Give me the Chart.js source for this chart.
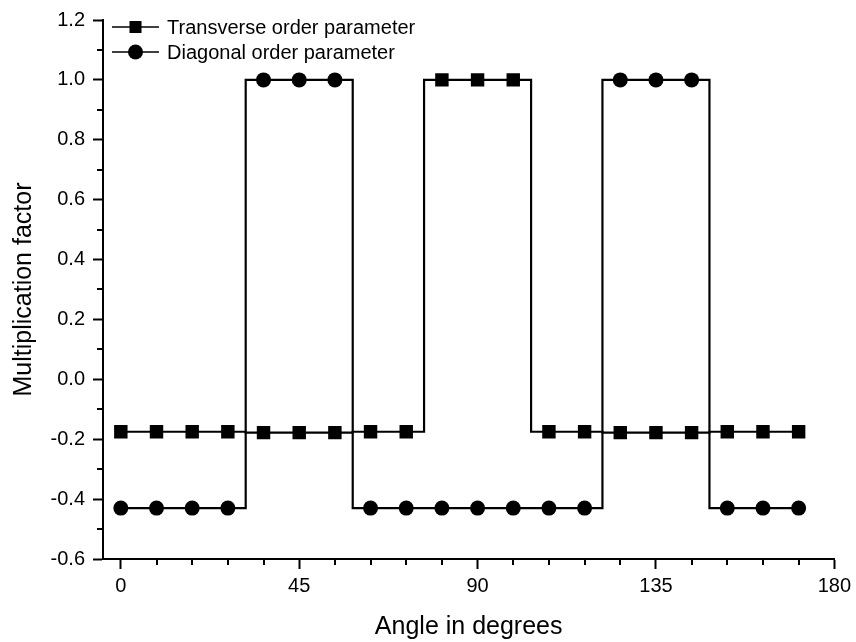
<!DOCTYPE html>
<html><head><meta charset="utf-8">
<script src="https://cdn.jsdelivr.net/npm/chart.js@4"></script>
<style>html,body{margin:0;padding:0;background:#fff}</style>
</head><body><canvas id="c" width="856" height="642"></canvas>
<script>
const angles = [0,9,18,27,36,45,54,63,72,81,90,99,108,117,126,135,144,153,162,171];
const transverse = [-0.175,-0.175,-0.175,-0.175,-0.178,-0.178,-0.178,-0.175,-0.175,1.0,1.0,1.0,-0.175,-0.175,-0.178,-0.178,-0.178,-0.175,-0.175,-0.175];
const diagonal = [-0.43,-0.43,-0.43,-0.43,1.0,1.0,1.0,-0.43,-0.43,-0.43,-0.43,-0.43,-0.43,-0.43,1.0,1.0,1.0,-0.43,-0.43,-0.43];
const xTicks = [0,45,90,135,180];
const yTicks = [-0.6,-0.4,-0.2,0.0,0.2,0.4,0.6,0.8,1.0,1.2];
const seriesNames = ['Transverse order parameter','Diagonal order parameter'];
const xTitle = 'Angle in degrees';
const yTitle = 'Multiplication factor';

const FAM = '"Liberation Sans", Arial, Helvetica, sans-serif';

const minorTicks = {
  id: 'minorTicks',
  afterDraw(chart) {
    const ctx = chart.ctx, xs = chart.scales.x, ys = chart.scales.y;
    ctx.save();
    ctx.strokeStyle = '#000'; ctx.lineWidth = 2;
    for (let i = 0; i < xTicks.length - 1; i++) {
      const a = xTicks[i], b = xTicks[i + 1];
      for (let k = 1; k < 5; k++) {
        const px = Math.round(xs.getPixelForValue(a + (b - a) * k / 5));
        ctx.beginPath(); ctx.moveTo(px, xs.top); ctx.lineTo(px, xs.top + 6); ctx.stroke();
      }
    }
    for (let i = 0; i < yTicks.length - 1; i++) {
      const a = yTicks[i], b = yTicks[i + 1];
      const py = Math.round(ys.getPixelForValue((a + b) / 2));
      ctx.beginPath(); ctx.moveTo(ys.right, py); ctx.lineTo(ys.right - 6, py); ctx.stroke();
    }
    ctx.restore();
  }
};

const legendBox = {
  id: 'legendBox',
  afterDraw(chart) {
    const ctx = chart.ctx, area = chart.chartArea;
    ctx.save();
    chart.data.datasets.forEach((ds, i) => {
      const y = area.top + 7 + i * 25;
      const x0 = area.left + 9, x1 = area.left + 56, xm = (x0 + x1) / 2;
      ctx.strokeStyle = '#000'; ctx.lineWidth = 1.3;
      ctx.beginPath(); ctx.moveTo(x0, y); ctx.lineTo(x1, y); ctx.stroke();
      ctx.fillStyle = '#000';
      Chart.helpers.drawPoint(ctx, {pointStyle: ds.pointStyle, radius: ds.pointStyle === 'rect' ? 8.5 : 7.5, rotation: 0, borderWidth: 0}, xm, y);
      ctx.font = '20px ' + FAM;
      ctx.textBaseline = 'middle'; ctx.textAlign = 'left';
      ctx.fillText(ds.label, x1 + 8, y + 1);
    });
    ctx.restore();
  }
};

new Chart(document.getElementById('c'), {
  type: 'line',
  data: {
    datasets: [
      {label: seriesNames[0], data: angles.map((a, i) => ({x: a, y: transverse[i]})), stepped: 'middle',
       borderColor: '#000', backgroundColor: '#000', borderWidth: 2.2, pointStyle: 'rect', pointRadius: 9.5,
       pointBorderWidth: 0, pointBackgroundColor: '#000', fill: false},
      {label: seriesNames[1], data: angles.map((a, i) => ({x: a, y: diagonal[i]})), stepped: 'middle',
       borderColor: '#000', backgroundColor: '#000', borderWidth: 2.2, pointStyle: 'circle', pointRadius: 7.5,
       pointBorderWidth: 0, pointBackgroundColor: '#000', fill: false}
    ]
  },
  options: {
    responsive: false, animation: false,
    layout: {padding: {top: 20, right: 20, left: 0, bottom: 0}},
    plugins: {legend: {display: false}, tooltip: {enabled: false}},
    scales: {
      x: {
        type: 'linear', min: -4.5, max: 180,
        afterBuildTicks: s => { s.ticks = xTicks.map(v => ({value: v})); },
        afterFit: s => { s.height = 83; },
        grid: {display: true, drawOnChartArea: false, drawTicks: true, tickLength: 10, tickWidth: 2, tickColor: '#000'},
        border: {display: true, color: '#000', width: 2},
        ticks: {color: '#000', font: {family: FAM, size: 20}, padding: 5, maxRotation: 0, autoSkip: false},
        title: {display: true, text: xTitle, color: '#000', font: {family: FAM, size: 25}, padding: {top: 0, bottom: 0}}
      },
      y: {
        type: 'linear', min: -0.6, max: 1.2,
        afterBuildTicks: s => { s.ticks = yTicks.map(v => ({value: v})); },
        afterFit: s => { s.width = 103; },
        grid: {display: true, drawOnChartArea: false, drawTicks: true, tickLength: 10, tickWidth: 2, tickColor: '#000'},
        border: {display: true, color: '#000', width: 2},
        ticks: {color: '#000', font: {family: FAM, size: 20}, padding: 8, callback: v => Number(v).toFixed(1)},
        title: {display: true, text: yTitle, color: '#000', font: {family: FAM, size: 25}, padding: {top: 9, bottom: 0}}
      }
    }
  },
  plugins: [minorTicks, legendBox]
});
</script></body></html>
